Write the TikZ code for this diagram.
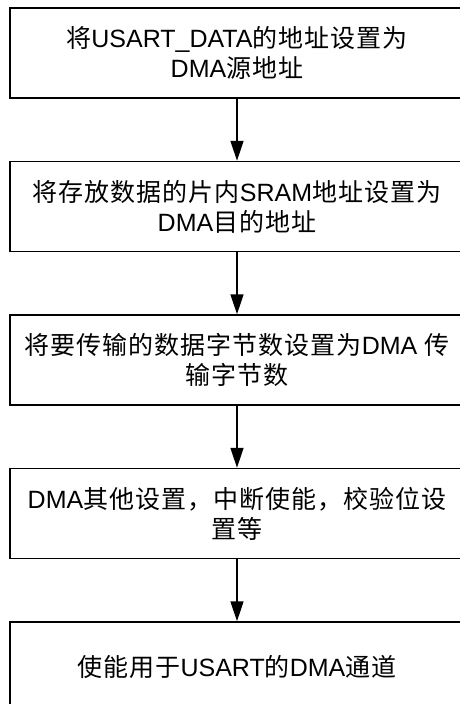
\documentclass[tikz,border=0pt]{standalone}
\usepackage{fontspec}
\setmainfont{Liberation Sans}
\newfontfamily\zhfont[LetterSpace=4]{Noto Sans CJK SC}
\newcommand{\zh}[1]{{\zhfont #1}}
\usetikzlibrary{arrows.meta, positioning}

\tikzset{
  stepbox/.style={draw, line width=1.5pt, minimum width=454pt, minimum height=90pt,
    inner sep=0pt, align=center, font=\fontsize{25pt}{30pt}\selectfont},
  flow/.style={line width=1.5pt, -{Triangle[length=20pt, width=13pt]}}
}

\begin{document}
\begin{tikzpicture}[node distance=62pt]

  \useasboundingbox (0,0) rectangle (459pt,-704pt);

  % Steps
  \node[stepbox] (src) at (237pt,-53pt)
    {\zh{将}USART\_DATA\zh{的地址设置为}\\DMA\zh{源地址}};
  \node[stepbox, below=of src] (dst)
    {\zh{将存放数据的片内}SRAM\zh{地址设置为}\\DMA\zh{目的地址}};
  \node[stepbox, below=of dst] (cnt)
    {\zh{将要传输的数据字节数设置为}DMA \zh{传}\\\zh{输字节数}};
  \node[stepbox, below=of cnt] (cfg)
    {DMA\zh{其他设置，中断使能，校验位设}\\\zh{置等}};
  \node[stepbox, below=of cfg] (en)
    {\zh{使能用于}USART\zh{的}DMA\zh{通道}};

  % Arrows
  \foreach \a/\b in {src/dst, dst/cnt, cnt/cfg, cfg/en}
    \draw[flow] (\a) -- (\b);

\end{tikzpicture}
\end{document}
